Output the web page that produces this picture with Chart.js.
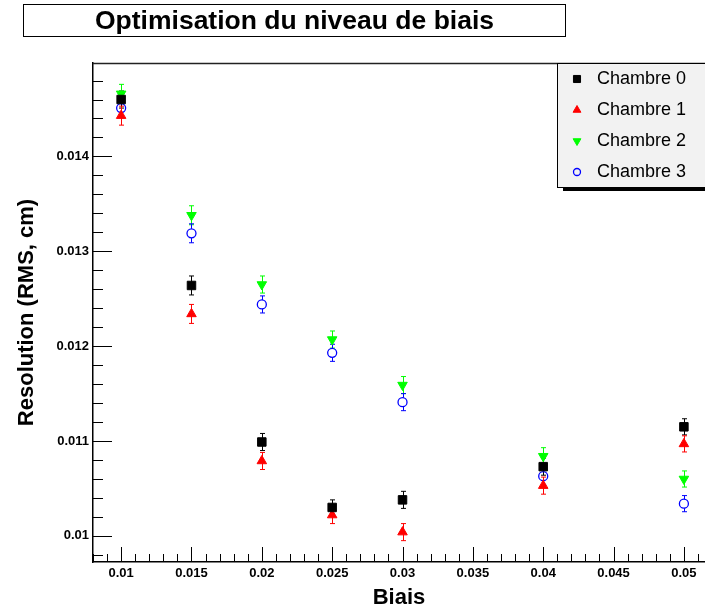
<!DOCTYPE html>
<html>
<head>
<meta charset="utf-8">
<title>Optimisation du niveau de biais</title>
<script src="https://cdn.jsdelivr.net/npm/chart.js@4.4.0/dist/chart.umd.min.js"></script>
<style>
  html, body { margin: 0; padding: 0; background: #fff; }
  #wrap { position: relative; width: 705px; height: 613px; }
</style>
</head>
<body>
<div id="wrap"><canvas id="biasChart" width="705" height="613"></canvas></div>
<script>
// bias levels, shared by every chamber
const biais = [0.01, 0.015, 0.02, 0.025, 0.03, 0.04, 0.05];

// resolution (RMS, cm) per chamber
const chambre0 = [0.01460, 0.01264, 0.01099, 0.01030, 0.01038, 0.01073, 0.01115];
const chambre1 = [0.01443, 0.01234, 0.01079, 0.01022, 0.01004, 0.01053, 0.01097];
const chambre2 = [0.01466, 0.01338, 0.01265, 0.01207, 0.01159, 0.01084, 0.01060];
const chambre3 = [0.01451, 0.01319, 0.01244, 0.01193, 0.01141, 0.01063, 0.01034];

// errors on the resolution
const err0 = [0.00009, 0.00010, 0.00009, 0.00008, 0.00009, 0.00009, 0.000085];
const err1 = [0.00010, 0.00010, 0.00009, 0.00009, 0.00009, 0.00009, 0.000085];
const err2 = [0.00010, 0.00010, 0.00009, 0.00009, 0.00009, 0.00009, 0.000085];
const err3 = [0.00010, 0.00010, 0.00009, 0.00009, 0.00009, 0.00009, 0.000085];

// axis ranges and ticks
const xRange = [0.008, 0.0515];
const yRange = [0.009725, 0.014985];
const xTicks = [0.01, 0.015, 0.02, 0.025, 0.03, 0.035, 0.04, 0.045, 0.05];
const yTicks = [0.01, 0.011, 0.012, 0.013, 0.014];
const xMinorStep = 0.001;
const yMinorStep = 0.0002;

const FONT = "'Liberation Sans', Arial, Helvetica, sans-serif";

function pts(ys) {
  return biais.map((x, i) => ({ x: x, y: ys[i] }));
}

const errors = [err0, err1, err2, err3];

// no extra room for labels: the frame is fixed like in the ROOT canvas
function noPadding(s) {
  s.paddingLeft = 0;
  s.paddingRight = 0;
  s.paddingTop = 0;
  s.paddingBottom = 0;
}

// ROOT-like decorations: error bars, inward ticks, title box and legend box
const rootDecor = {
  id: "rootDecor",
  beforeDatasetsDraw(chart) {
    const ctx = chart.ctx;
    const xs = chart.scales.x;
    const ys = chart.scales.y;
    chart.data.datasets.forEach((ds, i) => {
      const gap = ds.errGap || 0;
      ctx.save();
      ctx.strokeStyle = ds.borderColor;
      ctx.lineWidth = 1;
      ds.data.forEach((p, j) => {
        const e = errors[i][j];
        const x = Math.round(xs.getPixelForValue(p.x)) + 0.5;
        const yc = ys.getPixelForValue(p.y);
        const yHi = ys.getPixelForValue(p.y + e);
        const yLo = ys.getPixelForValue(p.y - e);
        ctx.beginPath();
        ctx.moveTo(x, yc - gap); ctx.lineTo(x, yHi);
        ctx.moveTo(x, yc + gap); ctx.lineTo(x, yLo);
        ctx.moveTo(x - 2.5, yHi); ctx.lineTo(x + 2.5, yHi);
        ctx.moveTo(x - 2.5, yLo); ctx.lineTo(x + 2.5, yLo);
        ctx.stroke();
      });
      ctx.restore();
    });
  },
  afterDraw(chart) {
    const ctx = chart.ctx;
    const xs = chart.scales.x;
    const ys = chart.scales.y;
    const area = chart.chartArea;
    ctx.save();

    // frame top line
    ctx.strokeStyle = "#222";
    ctx.lineWidth = 1.5;
    ctx.beginPath();
    ctx.moveTo(area.left, area.top + 0.5);
    ctx.lineTo(area.right, area.top + 0.5);
    ctx.stroke();

    // ticks drawn inside the frame
    ctx.strokeStyle = "#000";
    ctx.lineWidth = 1;
    ctx.beginPath();
    for (let v = Math.ceil(xs.min / xMinorStep) * xMinorStep; v <= xs.max + 1e-9; v += xMinorStep) {
      const major = xTicks.some(t => Math.abs(t - v) < 1e-7);
      const px = Math.round(xs.getPixelForValue(v)) + 0.5;
      ctx.moveTo(px, area.bottom);
      ctx.lineTo(px, area.bottom - (major ? 15 : 8));
    }
    for (let v = Math.ceil(ys.min / yMinorStep) * yMinorStep; v <= ys.max + 1e-9; v += yMinorStep) {
      const major = yTicks.some(t => Math.abs(t - v) < 1e-7);
      const py = Math.round(ys.getPixelForValue(v)) + 0.5;
      ctx.moveTo(area.left, py);
      ctx.lineTo(area.left + (major ? 19 : 10), py);
    }
    ctx.stroke();

    // title box
    ctx.fillStyle = "#fff";
    ctx.fillRect(23.5, 4.5, 542, 32);
    ctx.strokeStyle = "#000";
    ctx.lineWidth = 1;
    ctx.strokeRect(23.5, 4.5, 542, 32);
    ctx.fillStyle = "#000";
    ctx.font = "bold 26.5px " + FONT;
    ctx.textAlign = "center";
    ctx.textBaseline = "middle";
    ctx.fillText("Optimisation du niveau de biais", 294.5, 21.5);

    // legend box with shadow
    ctx.fillStyle = "#000";
    ctx.fillRect(563, 187.5, 150, 3.5);
    ctx.fillStyle = "#f2f2f2";
    ctx.fillRect(557.5, 63.5, 160, 124);
    ctx.strokeRect(557.5, 63.5, 160, 124);
    ctx.font = "18px " + FONT;
    ctx.textAlign = "left";
    chart.data.datasets.forEach((ds, i) => {
      const y = 79 + i * 31;
      ctx.save();
      ctx.fillStyle = ds.backgroundColor;
      ctx.strokeStyle = ds.borderColor;
      ctx.lineWidth = ds.borderWidth;
      Chart.helpers.drawPoint(ctx, {
        pointStyle: ds.pointStyle,
        rotation: ds.pointRotation || 0,
        radius: ds.legendRadius,
        borderWidth: ds.borderWidth
      }, 577, y);
      ctx.restore();
      ctx.fillStyle = "#000";
      ctx.fillText(ds.label, 597, y);
    });
    ctx.restore();
  }
};

new Chart(document.getElementById("biasChart").getContext("2d"), {
  type: "scatter",
  data: {
    datasets: [
      {
        label: "Chambre 0",
        data: pts(chambre0),
        pointStyle: "rect",
        pointRadius: 6,
        legendRadius: 5,
        backgroundColor: "#000000",
        borderColor: "#000000",
        borderWidth: 1
      },
      {
        label: "Chambre 1",
        data: pts(chambre1),
        pointStyle: "triangle",
        pointRadius: 5.5,
        legendRadius: 4.5,
        backgroundColor: "#ff0000",
        borderColor: "#ff0000",
        borderWidth: 1
      },
      {
        label: "Chambre 2",
        data: pts(chambre2),
        pointStyle: "triangle",
        pointRotation: 180,
        pointRadius: 5.5,
        legendRadius: 4.5,
        backgroundColor: "#00ff00",
        borderColor: "#00ff00",
        borderWidth: 1
      },
      {
        label: "Chambre 3",
        data: pts(chambre3),
        pointStyle: "circle",
        pointRadius: 4.5,
        legendRadius: 3.5,
        errGap: 4.5,
        backgroundColor: "rgba(0,0,0,0)",
        borderColor: "#0000ff",
        borderWidth: 1.3
      }
    ]
  },
  options: {
    responsive: false,
    animation: false,
    devicePixelRatio: 1,
    layout: { autoPadding: false, padding: { top: 63, left: 0, right: 0, bottom: 0 } },
    events: [],
    plugins: {
      legend: { display: false },
      title: { display: false },
      tooltip: { enabled: false }
    },
    scales: {
      x: {
        type: "linear",
        bounds: "data",
        min: xRange[0],
        max: xRange[1],
        afterFit: s => { s.height = 51; noPadding(s); },
        afterBuildTicks: s => {
          s.ticks = xTicks.map(v => ({ value: v }));
          s.min = xRange[0];
          s.max = xRange[1];
        },
        grid: { display: false, drawTicks: false },
        border: { display: true, color: "#000", width: 1.5 },
        ticks: {
          autoSkip: false,
          maxRotation: 0,
          padding: 4,
          color: "#000",
          font: { family: FONT, size: 13, weight: "bold" },
          callback: v => String(parseFloat(v.toFixed(4)))
        },
        title: {
          display: true,
          text: "Biais",
          color: "#000",
          font: { family: FONT, size: 22, weight: "bold" },
          padding: { top: 0, bottom: 2 }
        }
      },
      y: {
        type: "linear",
        bounds: "data",
        min: yRange[0],
        max: yRange[1],
        afterFit: s => { s.width = 93; noPadding(s); },
        afterBuildTicks: s => {
          s.ticks = yTicks.map(v => ({ value: v }));
          s.min = yRange[0];
          s.max = yRange[1];
        },
        grid: { display: false, drawTicks: false },
        border: { display: true, color: "#000", width: 1.5 },
        ticks: {
          autoSkip: false,
          padding: 4,
          color: "#000",
          font: { family: FONT, size: 13, weight: "bold" },
          callback: v => String(parseFloat(v.toFixed(4)))
        },
        title: {
          display: true,
          text: "Resolution (RMS, cm)",
          color: "#000",
          font: { family: FONT, size: 22, weight: "bold" },
          padding: { top: 14, bottom: 0 }
        }
      }
    }
  },
  plugins: [rootDecor]
});
</script>
</body>
</html>
